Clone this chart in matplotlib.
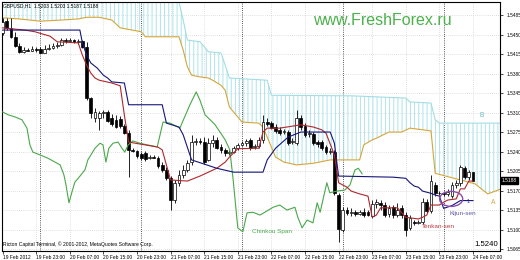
import numpy as np
import matplotlib
matplotlib.use("Agg")
import matplotlib.pyplot as plt
import matplotlib.transforms as mtransforms
from matplotlib.patches import Ellipse

plt.rcParams['font.family'] = ['Liberation Sans', 'DejaVu Sans']
plt.rcParams['hatch.linewidth'] = 0.7

# GBPUSD H1, one value per bar (bar 0 = 19 Feb 15:00)
opens = [
    1.5453, 1.5474, 1.5462, 1.5446, 1.5429, 1.5419, 1.5422, 1.5421, 1.5424, 1.5424,
    1.5417, 1.5424, 1.5426, 1.5429, 1.5431, 1.5440, 1.5438, 1.5440, 1.5437, 1.5438,
    1.5428, 1.5336, 1.5300, 1.5300, 1.5309, 1.5311, 1.5300, 1.5297, 1.5298, 1.5286,
    1.5273, 1.5243, 1.5241, 1.5236, 1.5237, 1.5228, 1.5230, 1.5228, 1.5216, 1.5207,
    1.5192, 1.5153, 1.5184, 1.5198, 1.5207, 1.5221, 1.5257, 1.5259, 1.5258, 1.5225,
    1.5255, 1.5261, 1.5248, 1.5243, 1.5237, 1.5239, 1.5246, 1.5252, 1.5255, 1.5261,
    1.5248, 1.5250, 1.5261, 1.5293, 1.5291, 1.5284, 1.5279, 1.5275, 1.5275, 1.5257,
    1.5255, 1.5300, 1.5286, 1.5271, 1.5271, 1.5257, 1.5257, 1.5248, 1.5239, 1.5239,
    1.5162, 1.5099, 1.5135, 1.5130, 1.5131, 1.5128, 1.5131, 1.5131, 1.5124, 1.5146,
    1.5148, 1.5144, 1.5128, 1.5140, 1.5126, 1.5139, 1.5126, 1.5103, 1.5114, 1.5112,
    1.5114, 1.5149, 1.5133, 1.5180, 1.5166, 1.5165, 1.5164, 1.5160, 1.5180, 1.5184,
    1.5210, 1.5194, 1.5203]
highs = [
    1.5480, 1.5480, 1.5480, 1.5455, 1.5435, 1.5428, 1.5426, 1.5429, 1.5428, 1.5428,
    1.5431, 1.5433, 1.5435, 1.5437, 1.5444, 1.5444, 1.5444, 1.5442, 1.5442, 1.5440,
    1.5437, 1.5338, 1.5318, 1.5313, 1.5315, 1.5315, 1.5307, 1.5306, 1.5304, 1.5289,
    1.5279, 1.5246, 1.5243, 1.5239, 1.5241, 1.5234, 1.5234, 1.5232, 1.5221, 1.5212,
    1.5196, 1.5189, 1.5207, 1.5216, 1.5225, 1.5270, 1.5264, 1.5264, 1.5266, 1.5264,
    1.5270, 1.5266, 1.5254, 1.5246, 1.5243, 1.5250, 1.5255, 1.5259, 1.5262, 1.5264,
    1.5254, 1.5266, 1.5306, 1.5300, 1.5295, 1.5289, 1.5284, 1.5280, 1.5279, 1.5264,
    1.5315, 1.5306, 1.5291, 1.5279, 1.5275, 1.5261, 1.5261, 1.5252, 1.5246, 1.5243,
    1.5166, 1.5140, 1.5140, 1.5139, 1.5135, 1.5135, 1.5139, 1.5135, 1.5153, 1.5155,
    1.5153, 1.5149, 1.5144, 1.5144, 1.5148, 1.5144, 1.5131, 1.5126, 1.5117, 1.5117,
    1.5157, 1.5155, 1.5198, 1.5185, 1.5169, 1.5169, 1.5173, 1.5185, 1.5189, 1.5216,
    1.5214, 1.5207, 1.5203]
lows = [
    1.5449, 1.5458, 1.5444, 1.5428, 1.5417, 1.5417, 1.5420, 1.5420, 1.5419, 1.5417,
    1.5416, 1.5422, 1.5424, 1.5426, 1.5429, 1.5435, 1.5437, 1.5435, 1.5433, 1.5426,
    1.5332, 1.5300, 1.5293, 1.5279, 1.5300, 1.5293, 1.5286, 1.5282, 1.5282, 1.5271,
    1.5194, 1.5239, 1.5228, 1.5225, 1.5223, 1.5227, 1.5228, 1.5210, 1.5203, 1.5189,
    1.5135, 1.5148, 1.5178, 1.5192, 1.5203, 1.5216, 1.5252, 1.5254, 1.5218, 1.5223,
    1.5248, 1.5245, 1.5237, 1.5232, 1.5234, 1.5237, 1.5243, 1.5250, 1.5250, 1.5243,
    1.5245, 1.5246, 1.5255, 1.5286, 1.5280, 1.5273, 1.5270, 1.5271, 1.5252, 1.5254,
    1.5252, 1.5279, 1.5266, 1.5266, 1.5252, 1.5248, 1.5243, 1.5236, 1.5236, 1.5162,
    1.5078, 1.5096, 1.5126, 1.5124, 1.5124, 1.5126, 1.5122, 1.5124, 1.5121, 1.5139,
    1.5135, 1.5122, 1.5122, 1.5121, 1.5122, 1.5121, 1.5088, 1.5099, 1.5108, 1.5110,
    1.5110, 1.5130, 1.5130, 1.5160, 1.5162, 1.5160, 1.5160, 1.5157, 1.5175, 1.5178,
    1.5191, 1.5189, 1.5187]
closes = [
    1.5473, 1.5462, 1.5446, 1.5429, 1.5419, 1.5422, 1.5421, 1.5424, 1.5422, 1.5417,
    1.5424, 1.5426, 1.5429, 1.5431, 1.5440, 1.5438, 1.5440, 1.5437, 1.5438, 1.5428,
    1.5336, 1.5309, 1.5311, 1.5309, 1.5311, 1.5295, 1.5289, 1.5284, 1.5286, 1.5273,
    1.5243, 1.5241, 1.5232, 1.5228, 1.5227, 1.5230, 1.5229, 1.5214, 1.5207, 1.5192,
    1.5153, 1.5184, 1.5198, 1.5207, 1.5219, 1.5257, 1.5259, 1.5258, 1.5221, 1.5255,
    1.5261, 1.5246, 1.5243, 1.5237, 1.5239, 1.5246, 1.5252, 1.5255, 1.5259, 1.5246,
    1.5250, 1.5261, 1.5293, 1.5289, 1.5282, 1.5277, 1.5273, 1.5277, 1.5255, 1.5259,
    1.5300, 1.5284, 1.5270, 1.5273, 1.5255, 1.5254, 1.5246, 1.5239, 1.5241, 1.5166,
    1.5101, 1.5135, 1.5130, 1.5131, 1.5128, 1.5131, 1.5126, 1.5126, 1.5146, 1.5149,
    1.5144, 1.5126, 1.5139, 1.5126, 1.5135, 1.5126, 1.5099, 1.5121, 1.5112, 1.5114,
    1.5149, 1.5133, 1.5187, 1.5166, 1.5165, 1.5164, 1.5167, 1.5180, 1.5184, 1.5212,
    1.5194, 1.5203, 1.5188]

# ichimoku lines, read as (bar, price) breakpoints
tenkan_bar = [0, 5.3, 7.7, 11.3, 13, 18, 19, 20, 21, 22, 23, 26, 28, 29, 30, 37, 38, 39, 40, 44,
              47, 49, 51, 53, 54, 56, 61, 62, 63, 66, 71, 74, 76, 77, 79, 80, 82, 83, 85, 87,
              88, 89, 90, 94, 96, 99, 100, 101, 102, 104, 105, 106, 108, 109, 110, 111, 112]
tenkan_val = [1.5462, 1.5458, 1.5455, 1.5447, 1.5437, 1.5435, 1.5413, 1.5395, 1.5381, 1.5372,
              1.5368, 1.5363, 1.5358, 1.5305, 1.5257, 1.5248, 1.5243, 1.5216, 1.5189, 1.5187,
              1.5196, 1.5203, 1.5210, 1.5221, 1.5230, 1.5245, 1.5246, 1.5275, 1.5282, 1.5282,
              1.5288, 1.5284, 1.5279, 1.5273, 1.5234, 1.5184, 1.5176, 1.5169, 1.5164, 1.5160,
              1.5122, 1.5126, 1.5139, 1.5139, 1.5122, 1.5119, 1.5122, 1.5126, 1.5144, 1.5144,
              1.5149, 1.5153, 1.5155, 1.5173, 1.5173, 1.5187, 1.5187]

kijun_bar = [0, 18.4, 19, 20, 21, 22.5, 24, 25, 26, 29, 30, 38, 39, 42, 43, 45, 51, 55, 62, 63,
             65, 68, 71, 78, 79, 80, 93, 96, 97, 98, 99, 100, 102, 103, 104, 105, 107, 109, 112]
kijun_val = [1.5458, 1.5458, 1.5435, 1.5413, 1.5399, 1.5390, 1.5377, 1.5372, 1.5365, 1.5363,
             1.5324, 1.5324, 1.5291, 1.5284, 1.5270, 1.5225, 1.5210, 1.5203, 1.5203, 1.5225,
             1.5246, 1.5266, 1.5275, 1.5275, 1.5255, 1.5196, 1.5194, 1.5192, 1.5184, 1.5178,
             1.5176, 1.5169, 1.5165, 1.5162, 1.5160, 1.5138, 1.5143, 1.5152, 1.5152]

spana_bar = [0, 4, 9, 14, 18, 20, 23, 26, 28, 33, 34, 42, 43, 44, 45, 47, 49, 50, 52, 53,
             54, 56, 57, 61, 62, 63, 65, 67, 70, 74, 78, 85, 86, 88, 89, 92, 95, 97, 99, 102,
             103, 106.5, 109, 112.5, 115.5, 118.4]
spana_val = [1.5480, 1.5478, 1.5474, 1.5476, 1.5478, 1.5481, 1.5481, 1.5476, 1.5462, 1.5455,
             1.5446, 1.5446, 1.5422, 1.5392, 1.5377, 1.5374, 1.5372, 1.5368, 1.5359, 1.5350,
             1.5320, 1.5302, 1.5293, 1.5291, 1.5284, 1.5266, 1.5230, 1.5221, 1.5216, 1.5219,
             1.5225, 1.5225, 1.5252, 1.5261, 1.5264, 1.5275, 1.5275, 1.5282, 1.5280, 1.5277,
             1.5201, 1.5194, 1.5189, 1.5182, 1.5164, 1.5172]

spanb_bar = [0, 41, 42, 43, 44, 47, 49, 52, 53, 54, 63, 64, 83, 96, 97, 102, 103, 104, 118.4]
spanb_val = [1.5545, 1.5545, 1.5508, 1.5476, 1.5440, 1.5437, 1.5419, 1.5417, 1.5395, 1.5372,
             1.5368, 1.5341, 1.5340, 1.5336, 1.5329, 1.5327, 1.5297, 1.5291, 1.5291]

chikou_bar = [0, 1.3, 3, 4.6, 5.8, 6.5, 7.2, 8.9, 10.8, 12.5, 13.7, 14.6, 15.1, 15.8, 16.5, 17.2,
              18, 19.6, 20.3, 22, 23.2, 23.9, 24.6, 25.3, 26.3, 27.5, 28.4, 29.1, 29.9, 31,
              32.7, 34.4, 35.8, 36.8, 38.2, 39.9, 42.2, 44.6, 46.1, 47, 48.2, 50.6, 53, 54.1,
              54.9, 56, 57.2, 58.2, 59.6, 61.3, 64.4, 66, 67.7, 69.6, 70.3, 71.3, 72.5, 73.9,
              74.9, 75.6, 77.2, 77.9, 79.6, 81.5, 82.7, 83.9, 84.7, 85.6]
chikou_val = [1.5311, 1.5306, 1.5302, 1.5297, 1.5282, 1.5252, 1.5239, 1.5234, 1.5228, 1.5221,
              1.5216, 1.5198, 1.5180, 1.5148, 1.5167, 1.5185, 1.5192, 1.5207, 1.5225, 1.5246,
              1.5255, 1.5252, 1.5221, 1.5246, 1.5255, 1.5257, 1.5246, 1.5239, 1.5252, 1.5259,
              1.5255, 1.5252, 1.5250, 1.5248, 1.5293, 1.5291, 1.5282, 1.5324, 1.5347, 1.5332,
              1.5306, 1.5288, 1.5261, 1.5243, 1.5189, 1.5103, 1.5096, 1.5130, 1.5131, 1.5126,
              1.5140, 1.5144, 1.5135, 1.5140, 1.5122, 1.5103, 1.5117, 1.5112, 1.5148, 1.5131,
              1.5184, 1.5166, 1.5169, 1.5171, 1.5180, 1.5207, 1.5210, 1.5200]

time_ticks = [0, 8, 16, 24, 32, 40, 48, 56, 64, 72, 80, 88, 96, 104, 112]
time_labels = ['19 Feb 2012', '19 Feb 23:00', '20 Feb 07:00', '20 Feb 15:00', '20 Feb 23:00',
               '21 Feb 07:00', '21 Feb 15:00', '21 Feb 23:00', '22 Feb 07:00', '22 Feb 15:00',
               '22 Feb 23:00', '23 Feb 07:00', '23 Feb 15:00', '23 Feb 23:00', '24 Feb 07:00']
day_starts = [9, 33, 57, 81, 105]
price_ticks = [1.5485, 1.5450, 1.5415, 1.5380, 1.5345, 1.5310, 1.5275, 1.5240,
               1.5205, 1.5170, 1.5135, 1.5100, 1.5065]
last_price = 1.5188

fig = plt.figure(figsize=(5.2, 2.6), dpi=100)
ax = fig.add_axes([2/520, 9/260, 498/520, 249/260])
ax.set_xlim(-0.143, 118.43)
ax.set_ylim(1.50615, 1.55084)

# grid + day separators
for p in price_ticks:
    ax.axhline(p, color='#c4c4c4', lw=0.5, ls=(0, (1, 2)), zorder=0)
for t in time_ticks[1:]:
    ax.axvline(t, color='#c4c4c4', lw=0.5, ls=(0, (1, 2)), zorder=0)
for d in day_starts:
    ax.axvline(d, color='#202020', lw=0.6, ls=(0, (1, 1.6)), zorder=0.5)

# kumo
poly_x = np.concatenate([spana_bar, spanb_bar[::-1]])
poly_y = np.concatenate([spana_val, spanb_val[::-1]])
ax.fill(poly_x, poly_y, facecolor='none', edgecolor='#ace4e9', lw=0, hatch='||||', zorder=1)
ax.plot(spanb_bar, spanb_val, color='#a3dde4', lw=0.8, zorder=2)
ax.plot(spana_bar, spana_val, color='#d5a637', lw=0.8, zorder=2)

# candles
idx = np.arange(len(closes))
o = np.array(opens)
h = np.array(highs)
l = np.array(lows)
c = np.array(closes)
up = c >= o
ax.vlines(idx, l, h, color='black', lw=0.6, zorder=3)
ax.bar(idx[up], (c - o)[up], bottom=o[up], width=0.7, color='white',
       edgecolor='black', lw=0.5, zorder=4)
ax.bar(idx[~up], (o - c)[~up], bottom=c[~up], width=0.7, color='black',
       edgecolor='black', lw=0.5, zorder=4)

# lines
ax.plot(chikou_bar, chikou_val, color='#4aa84a', lw=0.8, zorder=5)
ax.plot(tenkan_bar, tenkan_val, color='#b0262c', lw=0.8, zorder=5)
ax.plot(kijun_bar, kijun_val, color='#16167a', lw=0.8, zorder=5)

# annotations
ax.add_patch(Ellipse((106.8, 1.5155), 5.5, 0.0027, fill=False, ec='#8a4dab', lw=1.0, zorder=6))
ax.text(64.2, 1.5097, 'Chinkou Span', color='#4aa84a', fontsize=4.6, ha='center', va='center')
ax.text(99.9, 1.5106, 'Tenkan-sen', color='#c0393d', fontsize=4.6, ha='left', va='center')
ax.text(106.5, 1.5128, 'Kijun-sen', color='#5858a8', fontsize=4.6, ha='left', va='center')
ax.text(110.8, 1.5150, '1', color='#3a3a90', fontsize=4, ha='center', va='center')
ax.text(114.1, 1.5304, 'B', color='#6fb8c0', fontsize=4.8, ha='center', va='center')
ax.text(116.8, 1.5149, 'A', color='#d5a637', fontsize=4.8, ha='center', va='center')
ax.text(117.9, 1.5074, '1.5240', color='black', fontsize=5.6, ha='right', va='center')
ax.text(73.9, 1.5467, 'www.FreshForex.ru', color='#4cb14c', fontsize=11.5,
        ha='left', va='baseline')

fig.text(3/520, 1 - 6/260, 'GBPUSD,H1  1.5203 1.5203 1.5187 1.5188', fontsize=3.5,
         ha='left', va='center', color='black')
fig.text(3/520, 1 - 244/260, 'Ricton Capital Terminal, \u00a9 2001-2012, MetaQuotes Software Corp.',
         fontsize=3.6, ha='left', va='center', color='black')

# axes
for s in ax.spines.values():
    s.set_color('black')
    s.set_linewidth(0.8)
ax.yaxis.tick_right()
ax.set_yticks(price_ticks)
ax.set_yticklabels(['%.4f' % p for p in price_ticks])
ax.tick_params(axis='y', labelsize=3.4, length=2, width=0.5, pad=2.5, colors='black')
ax.set_xticks(time_ticks)
ax.set_xticklabels(time_labels, ha='left')
ax.tick_params(axis='x', labelsize=3.5, length=2, width=0.5, pad=1.2, colors='black')

blend = mtransforms.blended_transform_factory(ax.transAxes, ax.transData)
ax.text(1.004, last_price, '%.4f' % last_price, transform=blend, fontsize=3.5, color='white',
        ha='left', va='center', zorder=10,
        bbox=dict(boxstyle='square,pad=0.25', fc='black', ec='black'))

fig.savefig('out.png', dpi=100, facecolor='white')
